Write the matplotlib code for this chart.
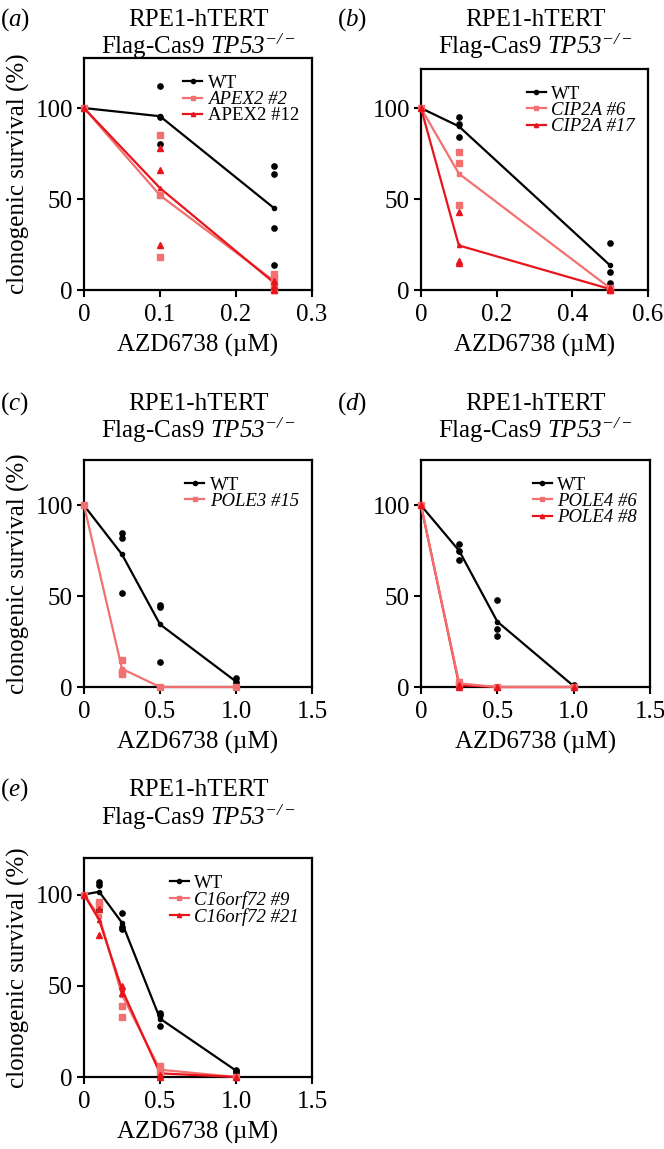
import matplotlib
matplotlib.use('Agg')
import matplotlib.pyplot as plt

plt.rcParams['font.family'] = ['Liberation Serif', 'DejaVu Serif']
plt.rcParams['mathtext.fontset'] = 'custom'
plt.rcParams['mathtext.rm'] = 'Liberation Serif'
plt.rcParams['mathtext.it'] = 'Liberation Serif:italic'
# italic font that also keeps digits italic (used for gene names in the title)
plt.rcParams['mathtext.sf'] = 'Liberation Serif:italic'

BLACK = '#000000'
LIGHT = '#f27070'
RED = '#e8141c'

# (a) APEX2
a_dose = [0, 0.1, 0.25]
a_wt = [100, 95.5, 45]
a_wt_reps = [[100], [112, 95, 80], [68, 64, 34, 14]]
a_apex2_2 = [100, 52, 5]
a_apex2_2_reps = [[100], [85, 52, 18], [9, 6, 3, 0]]
a_apex2_12 = [100, 56, 4]
a_apex2_12_reps = [[100], [78, 66, 25], [5, 2, 0]]

# (b) CIP2A
b_dose = [0, 0.1, 0.5]
b_wt = [100, 90, 13.5]
b_wt_reps = [[100], [95, 91, 84], [26, 10, 4]]
b_cip2a_6 = [100, 64, 1]
b_cip2a_6_reps = [[100], [76, 70, 47], [1, 0]]
b_cip2a_17 = [100, 24.5, 0.5]
b_cip2a_17_reps = [[100], [43, 16, 15], [1, 0]]

# (c) POLE3
c_dose = [0, 0.25, 0.5, 1.0]
c_wt = [100, 73, 34.5, 3]
c_wt_reps = [[100], [85, 82, 52], [45, 44, 14], [5, 1, 3]]
c_pole3_15 = [100, 10, 0, 0]
c_pole3_15_reps = [[100], [15, 8, 7], [0], [0]]

# (d) POLE4
d_dose = [0, 0.25, 0.5, 1.0]
d_wt = [100, 75, 36, 0.5]
d_wt_reps = [[100], [79, 75, 70], [48, 32, 28], [1, 0]]
d_pole4_6 = [100, 2, 0, 0]
d_pole4_6_reps = [[100], [3, 1], [0], [0]]
d_pole4_8 = [100, 1, 0, 0]
d_pole4_8_reps = [[100], [1, 0], [0], [0]]

# (e) C16orf72
e_dose = [0, 0.1, 0.25, 0.5, 1.0]
e_wt = [100, 101.5, 84.5, 32, 3.5]
e_wt_reps = [[100], [107, 105, 92], [90, 82, 81], [35, 34, 28], [4, 3, 3]]
e_c16_9 = [100, 88, 45, 4, 0]
e_c16_9_reps = [[100], [96, 94], [39, 33], [6, 3], [0]]
e_c16_21 = [100, 86, 48, 2, 0]
e_c16_21_reps = [[100], [92, 78], [50, 46], [1, 0], [0]]

W, H = 664, 1149
fig = plt.figure(figsize=(W / 100, H / 100), dpi=100)


def make_axes(left, right, bottom, top):
    return fig.add_axes([left / W, 1 - bottom / H, (right - left) / W, (bottom - top) / H])


def draw(ax, dose, series, xticks, xlabels, ytop, italic, ylabel):
    handles = []
    for label, mean, reps, color, marker in series:
        h, = ax.plot(dose, mean, color=color, lw=1.6, marker=marker, ms=3,
                     clip_on=False, zorder=3, label=label)
        handles.append(h)
        for x, ys in zip(dose, reps):
            ax.plot([x] * len(ys), ys, ls='none', marker=marker, ms=3.8,
                    color=color, clip_on=False, zorder=4)
    ax.set_xlim(xticks[0], xticks[-1])
    ax.set_ylim(0, ytop)
    ax.set_xticks(xticks)
    ax.set_xticklabels(xlabels)
    ax.set_yticks([0, 50, 100])
    ax.tick_params(direction='out', length=5, width=1.5, labelsize=18, pad=3,
                   top=False, right=False)
    ax.tick_params(axis='x', pad=5)
    for s in ax.spines.values():
        s.set_linewidth(1.6)
    ax.set_xlabel('AZD6738 (µM)', fontsize=18, labelpad=6)
    if ylabel:
        ax.set_ylabel('clonogenic survival (%)', fontsize=18, labelpad=4)
    leg = ax.legend(handles=handles, loc='upper right', bbox_to_anchor=(1.0, 0.985),
                    frameon=False, fontsize=13.5, handlelength=1.0, handletextpad=0.3,
                    labelspacing=-0.04, borderaxespad=0.3)
    for t, it in zip(leg.get_texts(), italic):
        if it:
            t.set_fontstyle('italic')


def header(letter, cx, y1, y2, lx):
    fig.text(lx, 1 - y1 / H, '($\\mathit{' + letter + '}$)', fontsize=18, va='center', ha='left')
    fig.text(cx / W, 1 - y1 / H, 'RPE1-hTERT', fontsize=18, va='center', ha='center')
    fig.text(cx / W, 1 - y2 / H, r'Flag-Cas9 $\mathsf{TP53}^{\mathsf{-/-}}$',
             fontsize=18, va='center', ha='center')


ax_a = make_axes(84, 312, 290, 58)
draw(ax_a, a_dose,
     [('WT', a_wt, a_wt_reps, BLACK, 'o'),
      ('APEX2 #2', a_apex2_2, a_apex2_2_reps, LIGHT, 's'),
      ('APEX2 #12', a_apex2_12, a_apex2_12_reps, RED, '^')],
     [0, 0.1, 0.2, 0.3], ['0', '0.1', '0.2', '0.3'], 127.5,
     [False, True, False], True)
header('a', 198, 20, 46, 0.0)

ax_b = make_axes(421, 648, 290, 69)
draw(ax_b, b_dose,
     [('WT', b_wt, b_wt_reps, BLACK, 'o'),
      ('CIP2A #6', b_cip2a_6, b_cip2a_6_reps, LIGHT, 's'),
      ('CIP2A #17', b_cip2a_17, b_cip2a_17_reps, RED, '^')],
     [0, 0.2, 0.4, 0.6], ['0', '0.2', '0.4', '0.6'], 121.5,
     [False, True, True], False)
header('b', 535, 20, 46, 337 / W)

ax_c = make_axes(84, 312, 687, 460)
draw(ax_c, c_dose,
     [('WT', c_wt, c_wt_reps, BLACK, 'o'),
      ('POLE3 #15', c_pole3_15, c_pole3_15_reps, LIGHT, 's')],
     [0, 0.5, 1.0, 1.5], ['0', '0.5', '1.0', '1.5'], 125,
     [False, True], True)
header('c', 198, 404, 430, 0.0)

ax_d = make_axes(421, 650, 687, 460)
draw(ax_d, d_dose,
     [('WT', d_wt, d_wt_reps, BLACK, 'o'),
      ('POLE4 #6', d_pole4_6, d_pole4_6_reps, LIGHT, 's'),
      ('POLE4 #8', d_pole4_8, d_pole4_8_reps, RED, '^')],
     [0, 0.5, 1.0, 1.5], ['0', '0.5', '1.0', '1.5'], 125,
     [False, True, True], False)
# the light POLE4 #6 curve sits on top of #8 in the original
ax_d.lines[0].set_zorder(3.6)
for ln in ax_d.lines:
    if ln.get_color() == LIGHT and ln.get_linestyle() == '-':
        ln.set_zorder(3.5)
header('d', 535, 404, 430, 337 / W)

ax_e = make_axes(84, 312, 1077, 858)
draw(ax_e, e_dose,
     [('WT', e_wt, e_wt_reps, BLACK, 'o'),
      ('C16orf72 #9', e_c16_9, e_c16_9_reps, LIGHT, 's'),
      ('C16orf72 #21', e_c16_21, e_c16_21_reps, RED, '^')],
     [0, 0.5, 1.0, 1.5], ['0', '0.5', '1.0', '1.5'], 120,
     [False, True, True], True)
header('e', 198, 790, 817, 0.0)

fig.savefig('out.png', dpi=100)
